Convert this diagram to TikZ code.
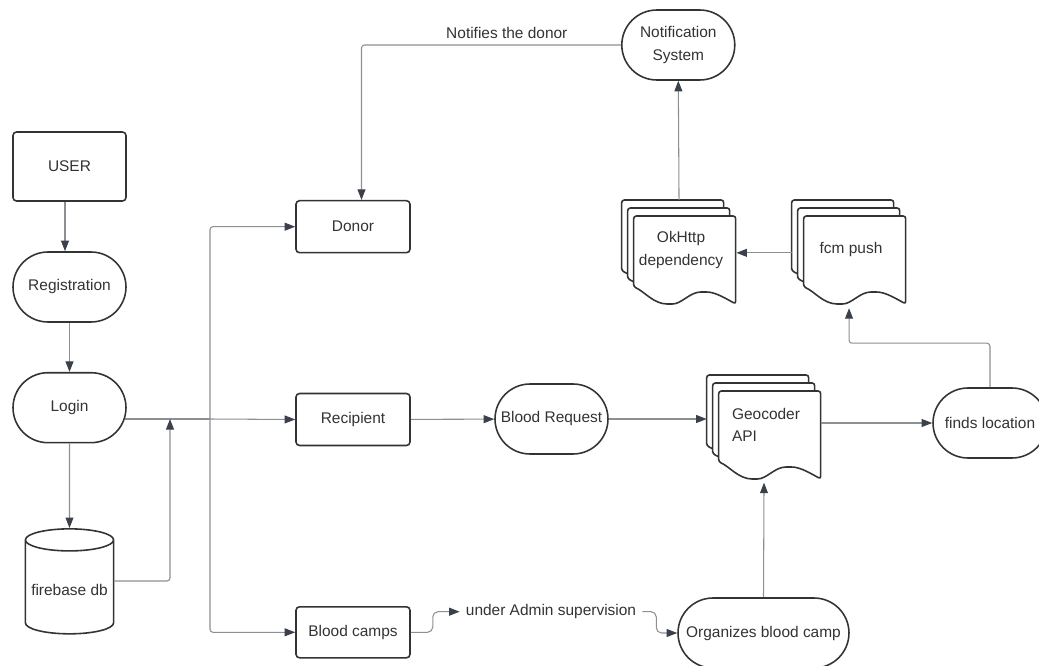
\documentclass[tikz,border=0pt]{standalone}
\usepackage{fontspec}
\setmainfont{Liberation Sans}
\usetikzlibrary{arrows.meta, shapes.geometric, positioning}

\definecolor{inkgray}{HTML}{333333}
\definecolor{linegray}{HTML}{8C8F94}
\definecolor{tipgray}{HTML}{3A414A}

\tikzset{
  flowtext/.style={font=\fontsize{8.8}{12.8}\selectfont, text=inkgray},
  procbox/.style={flowtext, draw=inkgray, line width=0.9pt, rounded corners=2pt,
    minimum width=2.28cm, minimum height=1.04cm},
  termbox/.style={flowtext, draw=inkgray, line width=0.9pt, rounded corners=0.7cm,
    minimum width=2.26cm, minimum height=1.4cm, inner xsep=1pt, align=center},
  dbbox/.style={flowtext, draw=inkgray, line width=0.9pt, cylinder,
    shape border rotate=90, aspect=0.25, minimum width=1.7cm, minimum height=2.1cm},
  stackbox/.style={minimum width=2.28cm, minimum height=2.1cm, inner sep=0pt},
  conn/.style={draw=linegray, line width=0.6pt, rounded corners=1.7pt,
    -{Triangle[length=6pt,width=4.5pt,color=tipgray]}},
  plainconn/.style={draw=linegray, line width=0.6pt, rounded corners=1.7pt},
  sheet/.pic={
    \draw[draw=inkgray, line width=0.9pt, fill=white, rounded corners=1.5pt]
      (0,71) -- (0,0) -- (102,0) -- (102,88)
      .. controls (88,80) and (80,76) .. (70,76)
      .. controls (56,76) and (48,88) .. (36,88)
      .. controls (20,88) and (10,75) .. (0,71) -- cycle;
  }
}

% stack of three documents: name, top left corner, text, alignment
\newcommand{\docstack}[4]{%
  \node[stackbox, anchor=north west] (#1) at (#2) {};
  \foreach \sh in {0,1,2}
    \pic[shift={(6*\sh,8*\sh)}] at (#1.north west) {sheet};
  \node[flowtext, align=#4] (#1-label) at ([xshift=0.04cm, yshift=0.06cm]#1.center) {#3};
}

\begin{document}
\begin{tikzpicture}[x=0.02cm, y=-0.02cm]
    \useasboundingbox (0,0) rectangle (1039,666);

    % login column
    \node[procbox, minimum width=2.26cm, minimum height=1.38cm] (user) at (69.5,166.5) {USER};
    \node[termbox] (reg) at (69.5,287) {Registration};
    \node[termbox] (login) at (69.5,407.7) {Login};
    \node[dbbox] (fdb) at (69.5,590) {firebase db};
    \coordinate (dbjoin) at (170,419);
    \coordinate (split) at (210,419);

    % roles
    \node[procbox] (donor) at (353,226.7) {Donor};
    \node[procbox] (recip) at (353,419.5) {Recipient};
    \node[procbox, minimum height=1.02cm] (camps) at (353,632.3) {Blood camps};

    % request chain
    \node[termbox] (breq) at (551.5,419) {Blood Request};
    \docstack{geo}{706.7,375}{Geocoder\\API}{left}
    \node[termbox, minimum width=2.28cm] (finds) at (990,423) {finds location};
    \docstack{fcm}{791.7,200}{fcm push}{center}
    \docstack{okhttp}{621.7,200}{OkHttp\\dependency}{center}
    \node[termbox] (notif) at (678.3,45) {Notification\\System};

    % camps chain
    \node[flowtext] (admin) at (551,611.7) {under Admin supervision};
    \node[termbox, minimum width=3.42cm] (org) at (763.5,633) {Organizes blood camp};

    % connectors
    \draw[conn] ([xshift=-0.09cm]user.south) -- ([xshift=-0.09cm]reg.north);
    \draw[conn] (reg) -- (login);
    \draw[conn] (login) -- (fdb);
    \draw[plainconn, shorten <=-0.04cm] (login.east |- split) -- (split);
    \draw[conn] ([yshift=0.18cm]fdb.east) -| (dbjoin);
    \draw[conn] (split) |- (donor.west);
    \draw[conn] (split) -- (recip.west);
    \draw[conn] (split) |- (camps.west);

    \draw[conn] (notif.west) -| ([xshift=0.17cm]donor.north)
        node[pos=0.22, above, flowtext] (notifylbl) {Notifies the donor};
    \draw[conn] (recip) -- (breq);
    \draw[conn] (breq.east) -- (breq.east -| geo.west);
    \draw[conn] (finds.west -| geo.east) -- (finds.west);
    \draw[conn, shorten >=0.04cm] (org.north) -- (geo.south);
    \draw[conn, shorten >=0.05cm] (finds.north) -- ++(0,-44) -| (fcm.south);
    \draw[conn] (fcm.west) -- (okhttp.east);
    \draw[conn] (okhttp.north) -- (notif.south);

    \draw[conn, rounded corners=3pt] (camps.east) -- ++(22,0) |- (admin.west);
    \draw[conn, rounded corners=3pt] (admin.east) -- ++(14,0) |- (org.west);
\end{tikzpicture}
\end{document}
